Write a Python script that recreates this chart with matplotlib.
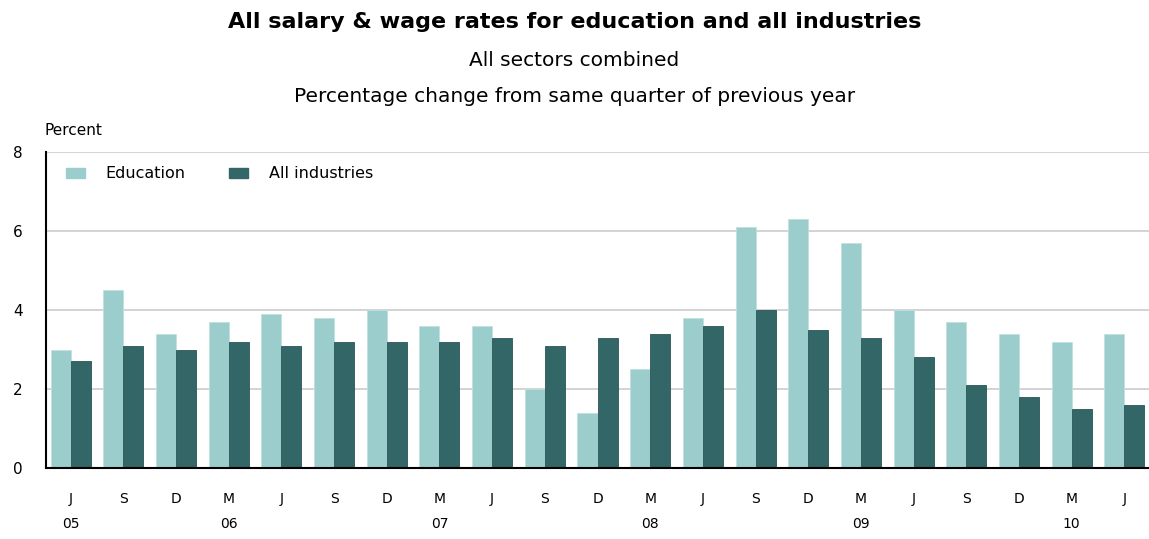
import matplotlib
matplotlib.use('Agg')
import matplotlib.pyplot as plt
import matplotlib.patches as mpatches
import numpy as np

plt.rcParams['font.family'] = ['DejaVu Sans']

months = ['J', 'S', 'D', 'M', 'J', 'S', 'D', 'M', 'J', 'S', 'D',
          'M', 'J', 'S', 'D', 'M', 'J', 'S', 'D', 'M', 'J']
years = ['05', '', '', '06', '', '', '', '07', '', '', '',
         '08', '', '', '', '09', '', '', '', '10', '']
education = [3.0, 4.5, 3.4, 3.7, 3.9, 3.8, 4.0, 3.6, 3.6, 2.0, 1.4,
             2.5, 3.8, 6.1, 6.3, 5.7, 4.0, 3.7, 3.4, 3.2, 3.4]
all_industries = [2.7, 3.1, 3.0, 3.2, 3.1, 3.2, 3.2, 3.2, 3.3, 3.1, 3.3,
                  3.4, 3.6, 4.0, 3.5, 3.3, 2.8, 2.1, 1.8, 1.5, 1.6]

light = '#9ccdcd'
dark = '#336666'

fig = plt.figure(figsize=(11.49, 5.39), dpi=100)
ax = fig.add_axes([46/1149, 71/539, 1 - 46/1149, 316/539])

x = np.arange(len(months))
w = 0.38
ax.bar(x - w/2, education, w, color=light, edgecolor='#bfe0e0', linewidth=0.6, zorder=2)
ax.bar(x + w/2, all_industries, w, color=dark, edgecolor='#2a5555', linewidth=0.6, zorder=2)

ax.set_xlim(-0.47, len(months) - 0.53)
ax.set_ylim(0, 8)
ax.set_yticks([0, 2, 4, 6, 8])
ax.yaxis.grid(True, color='#cccccc', linewidth=1.2, zorder=0)
ax.set_axisbelow(True)
for s in ['top', 'right']:
    ax.spines[s].set_visible(False)
ax.spines['left'].set_linewidth(1.5)
ax.spines['bottom'].set_linewidth(1.5)
ax.tick_params(axis='y', length=0, pad=17, labelsize=11)
ax.tick_params(axis='x', length=0, pad=17, labelsize=10)
ax.set_xticks(x)
ax.set_xticklabels([m + '\n' + y for m, y in zip(months, years)], linespacing=2.05)

ax.text(-0.001, 1.045, 'Percent', transform=ax.transAxes, fontsize=11,
        ha='left', va='bottom')

handles = [mpatches.Patch(color=light, label='Education'),
           mpatches.Patch(color=dark, label='All industries')]
ax.legend(handles=handles, loc='upper left', bbox_to_anchor=(0.005, 1.0),
          ncol=2, frameon=False, fontsize=11.5, handlelength=1.2, handleheight=0.6,
          columnspacing=2.7, handletextpad=1.3)

fig.text(0.5, 0.960, 'All salary & wage rates for education and all industries',
         ha='center', va='center', fontsize=16, fontweight='bold')
fig.text(0.5, 0.888, 'All sectors combined', ha='center', va='center', fontsize=14.5)
fig.text(0.5, 0.821, 'Percentage change from same quarter of previous year',
         ha='center', va='center', fontsize=14.5)

fig.savefig('out.png', dpi=100)
